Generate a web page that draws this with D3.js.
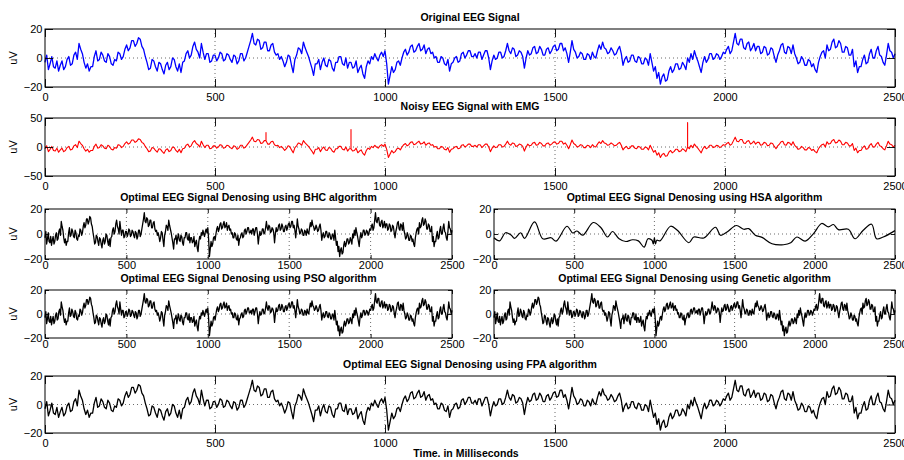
<!DOCTYPE html>
<html>
<head>
<meta charset="utf-8">
<script src="https://cdn.jsdelivr.net/npm/d3@7"></script>
<style>
body { margin:0; background:#fff; }
svg { display:block; }
text { font-family: "Liberation Sans", Arial, Helvetica, sans-serif; }
</style>
</head>
<body>
<svg id="chart" width="904" height="460"></svg>
<script>
// sample spacing of the read-off EEG trace (ms)
var timeStep = 5;

// original EEG, one value every 5 ms, 0..2500
var original = [
  -3, 2, -8, -4, 1, -6, -7, -2, -9, -5, -2, -8, -6, -1, 1, -5, -4, 2, 4, -1,
  10, 6, 3, -3, -7, -4, -9, -6, -6, 1, 5, -2, -1, 4, 2, -2, -3, 3, 1, -4,
  -5, -1, -2, 4, 3, -1, 1, 6, 9, 5, 7, 12, 12, 8, 10, 14, 13, 8, 6, 1,
  -3, -8, -7, -1, -2, -6, -9, -3, -4, -8, -11, -5, -3, -8, -6, 0, -1, -6, -9, -4,
  -10, -3, -2, 3, 5, 0, 2, 8, 11, 6, 4, 0, 10, 4, -1, 3, 3, -3, -2, 2,
  2, -2, 0, 4, 3, -2, -1, 3, 2, -1, -3, 2, 1, -4, -2, 3, 3, -2, 0, 4,
  8, 12, 17, 10, 9, 13, 12, 6, 7, 11, 11, 5, 5, 9, 10, 4, 2, 3, -1, 1,
  -2, -6, -3, 2, 1, -5, -10, -1, 2, 7, 6, 3, 11, 7, 4, 1, -3, -7, -12, -4,
  -4, -1, -8, -3, 0, -5, -6, -1, -2, -7, -9, -3, -3, 1, 1, -4, -5, 0, -7, -3,
  -3, -7, -6, -2, -10, -7, -5, -11, -14, -6, -2, -4, 1, -1, 3, 0, -2, 2, 4, 1,
  5, -4, -18, -12, -6, -10, -8, -3, -2, -5, 0, 4, 6, 2, 4, 8, 9, 4, 5, 8,
  10, 5, 6, 9, 3, 6, 7, 3, 4, 0, 1, -3, -3, 1, 0, -4, -5, -1, -9, -4,
  -3, 0, 1, -3, -2, 3, 4, 0, 2, 5, 5, 1, 1, 3, 0, 4, 4, -1, 2, 5,
  5, 0, -8, -2, 2, -1, 0, 4, 4, 0, 1, 5, 10, 5, 3, 7, 6, 1, 2, 5,
  4, 1, -7, 0, 5, 2, 3, 7, 8, 3, 4, 8, 6, 2, 2, 6, 7, 3, 5, 8,
  9, 5, 6, 10, 10, 5, 7, 3, -3, 4, 12, 6, 4, 0, 1, 4, 3, -1, -1, 3,
  2, -1, 4, 1, 0, 5, 9, 6, 11, 7, 6, 3, 4, 7, 5, 2, 3, 6, 8, 3,
  -5, -1, 1, -3, -2, 2, 2, -2, -3, 1, 0, -4, -4, 0, -1, -5, 3, -3, -9, -6,
  -14, -10, -18, -13, -11, -16, -15, -9, -6, -10, -8, -4, -4, -8, -7, -3, -5, -8, 0, -3,
  3, -1, 5, 1, -2, -6, -10, -3, 1, -3, -1, 3, 3, -1, 0, 3, 2, -1, 1, 4,
  3, 6, 8, 3, 5, 11, 17, 10, 9, 13, 13, 7, 6, 10, 11, 5, 7, 10, 5, 8,
  8, 3, 4, 8, 7, 2, 3, 7, 6, 1, -3, 2, 5, 9, 10, 4, 3, 8, 7, 3,
  9, 3, 0, -4, -3, 1, -1, -5, -5, -1, -2, -6, -4, -8, -10, -3, 1, 4, 5, 0,
  9, 5, 6, 11, 13, 7, 8, 12, 10, 4, 4, 8, 7, 2, 2, 6, -6, -2, -10, -6,
  -6, -1, 2, -4, -3, 3, 6, 0, 0, 5, 8, 2, 1, -3, -5, 2, 10, 5, 4, 0, 3
];

// EMG artifacts added on top of the EEG (time ms, peak uV)
var emgTimes = [650, 900, 1890];
var emgPeaks = [25, 30, 42];

// the BHC / PSO / Genetic / FPA outputs track the original trace
var bhcValues = original;
var psoValues = original;
var geneticValues = original;
var fpaValues = original;

// HSA output is a smooth curve
var hsaTimes = [0, 35, 72, 108, 128, 166, 190, 253, 304, 356, 387, 455, 491, 517, 553, 619, 667, 708, 739, 780,
  822, 863, 900, 936, 960, 985, 993, 1000, 1007, 1015, 1035, 1101, 1143, 1215, 1246, 1308, 1381, 1412, 1453, 1511,
  1557, 1588, 1629, 1671, 1733, 1805, 1850, 1888, 1940, 1992, 2043, 2085, 2116, 2147, 2209, 2251, 2302, 2354, 2385, 2427, 2500];
var hsaValues = [-3, -5.5, 1, -1, -3.5, 1, -3.5, 9.7, -3.8, -3, -5.7, 6.2, 0.8, 2.4, -1, 9.2, 5, -2.4, 2, -3.8,
  -6, -4.6, -5.5, -10.5, -3.8, -5, -8, -3, -8, -5, -5.5, 6.2, 3, -7, -2.4, -3.2, 5.4, -1, 1.6, 6.8,
  3.8, 4.3, -1, -2.7, -7.8, -8.6, -7, -2.4, -5.7, 0.3, 8.4, 5.7, 7.6, 3.5, 3.8, -3.8, 3, 7.8, -3.8, -2.4, 2.7];

var xTicks = [0, 500, 1000, 1500, 2000, 2500];
var smallTicks = [-20, 0, 20];
var noisyTicks = [-50, 0, 50];

var svg = d3.select('#chart');

function toPts(vals){
    return vals.map(function(v, i){ return {t: i * timeStep, v: v}; });
}

// noisy trace: original plus vertical EMG spikes
var noisyPts = [];
original.forEach(function(v, i){
    var t = i * timeStep;
    noisyPts.push({t: t, v: v});
    var k = emgTimes.indexOf(t);
    if (k >= 0) {
        noisyPts.push({t: t, v: emgPeaks[k]});
        noisyPts.push({t: t, v: v});
    }
});
var hsaPts = hsaTimes.map(function(t, i){ return {t: t, v: hsaValues[i]}; });

var panels = [
  {title:'Original EEG Signal', left:45, right:895, top:29, bottom:87, ticks:smallTicks, pts:toPts(original), color:'#0000ff', tick:8, xPad:6, ylabel:true, width:1.3},
  {title:'Noisy EEG Signal with EMG', left:45, right:895, top:118, bottom:176, ticks:noisyTicks, pts:noisyPts, color:'#ff0000', tick:8, xPad:6, ylabel:true, width:1.1},
  {title:'Optimal EEG Signal Denosing using BHC algorithm', left:45, right:452, top:209, bottom:259, ticks:smallTicks, pts:toPts(bhcValues), color:'#000', tick:4, xPad:2, ylabel:true, width:1.3},
  {title:'Optimal EEG Signal Denosing using HSA algorithm', left:494, right:895, top:209, bottom:259, ticks:smallTicks, pts:hsaPts, color:'#000', tick:4, xPad:2, ylabel:false, width:1.2, curve:d3.curveCatmullRom},
  {title:'Optimal EEG Signal Denosing using PSO algorithm', left:45, right:452, top:290, bottom:338, ticks:smallTicks, pts:toPts(psoValues), color:'#000', tick:4, xPad:2, ylabel:true, width:1.3},
  {title:'Optimal EEG Signal Denosing using Genetic algorithm', left:494, right:895, top:290, bottom:338, ticks:smallTicks, pts:toPts(geneticValues), color:'#000', tick:4, xPad:2, ylabel:false, width:1.3},
  {title:'Optimal EEG Signal Denosing using FPA algorithm', left:45, right:895, top:376, bottom:433, ticks:smallTicks, pts:toPts(fpaValues), color:'#000', tick:8, xPad:6, ylabel:true, width:1.3}
];

panels.forEach(drawPanel);

// x label only under the last panel
svg.append('text')
    .attr('x', 466).attr('y', 457)
    .attr('text-anchor', 'middle')
    .attr('font-size', '10.5px')
    .attr('font-weight', 'bold')
    .text('Time. in Milliseconds');

function drawPanel(p){
    var x = d3.scaleLinear().domain([0, 2500]).range([p.left, p.right]);
    var y = d3.scaleLinear().domain([p.ticks[0], p.ticks[p.ticks.length-1]]).range([p.bottom, p.top]);
    var g = svg.append('g');

    // dotted grid
    g.append('g').selectAll('line').data(xTicks.slice(1, -1)).join('line')
        .attr('x1', d=>x(d)).attr('x2', d=>x(d))
        .attr('y1', p.top).attr('y2', p.bottom)
        .attr('stroke', '#444').attr('stroke-width', 0.8)
        .attr('stroke-dasharray', '1,3');
    g.append('g').selectAll('line').data(p.ticks.slice(1, -1)).join('line')
        .attr('x1', p.left).attr('x2', p.right)
        .attr('y1', d=>y(d)).attr('y2', d=>y(d))
        .attr('stroke', '#444').attr('stroke-width', 0.8)
        .attr('stroke-dasharray', '1,3');

    // signal
    g.append('path').datum(p.pts)
        .attr('d', d3.line().x(d=>x(d.t)).y(d=>y(d.v)).curve(p.curve || d3.curveLinear))
        .attr('fill', 'none')
        .attr('stroke', p.color)
        .attr('stroke-width', p.width)
        .attr('stroke-linejoin', 'round');

    // axes, ticks pointing inwards
    var ax = [
        g.append('g').attr('transform', 'translate(0,' + p.bottom + ')')
            .call(d3.axisBottom(x).tickValues(xTicks).tickSizeInner(-p.tick).tickSizeOuter(0).tickPadding(p.xPad).tickFormat(d3.format('d'))),
        g.append('g').attr('transform', 'translate(0,' + p.top + ')')
            .call(d3.axisTop(x).tickValues(xTicks).tickSizeInner(-p.tick).tickSizeOuter(0).tickFormat('')),
        g.append('g').attr('transform', 'translate(' + p.left + ',0)')
            .call(d3.axisLeft(y).tickValues(p.ticks).tickSizeInner(-p.tick).tickSizeOuter(0).tickPadding(2.5)
                  .tickFormat(d => d < 0 ? '\u2212' + Math.abs(d) : d)),
        g.append('g').attr('transform', 'translate(' + p.right + ',0)')
            .call(d3.axisRight(y).tickValues(p.ticks).tickSizeInner(-p.tick).tickSizeOuter(0).tickFormat(''))
    ];
    ax.forEach(function(a){
        a.attr('font-family', null).attr('font-size', null);
        a.select('.domain').remove();
        a.selectAll('line').attr('stroke', '#000').attr('stroke-width', 0.9);
        a.selectAll('text').attr('fill', '#000').attr('font-size', '11px');
    });

    // box
    g.append('rect')
        .attr('x', p.left).attr('y', p.top)
        .attr('width', p.right - p.left).attr('height', p.bottom - p.top)
        .attr('fill', 'none').attr('stroke', '#000').attr('stroke-width', 1);

    g.append('text')
        .attr('x', (p.left + p.right) / 2).attr('y', p.top - 8)
        .attr('text-anchor', 'middle')
        .attr('font-size', '10.5px')
        .attr('font-weight', 'bold')
        .text(p.title);

    if (p.ylabel) {
        g.append('text')
            .attr('transform', 'translate(17,' + ((p.top + p.bottom) / 2) + ') rotate(-90)')
            .attr('text-anchor', 'middle')
            .attr('font-size', '11px')
            .text('uV');
    }
}
</script>
</body>
</html>
